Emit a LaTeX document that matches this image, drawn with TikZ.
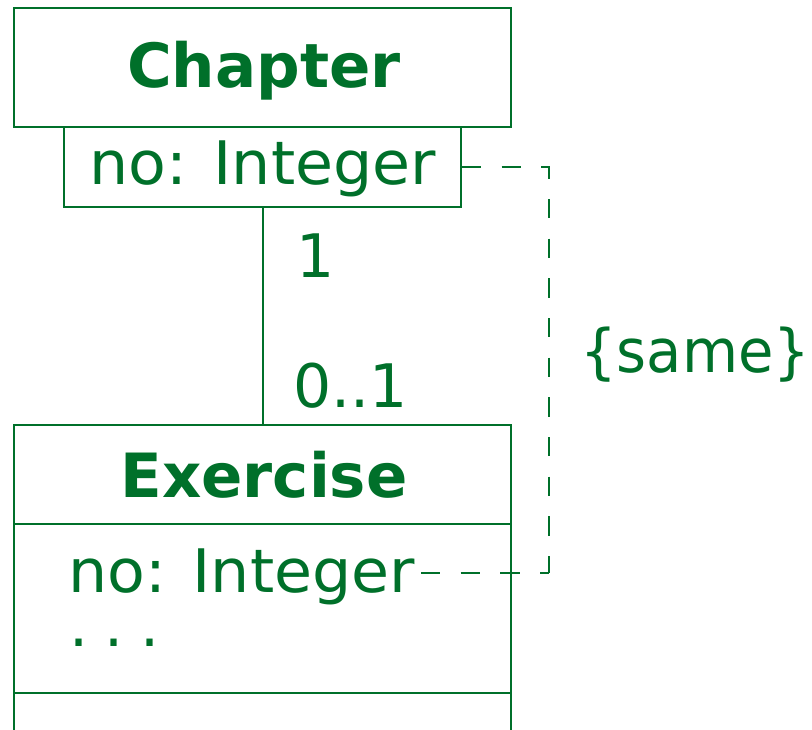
\documentclass[tikz,border=0pt]{standalone}
\usepackage{fontspec}
\setmainfont{DejaVu Sans}
\newfontfamily\regwide[FakeStretch=1.03]{DejaVu Sans}
\newfontfamily\regnarrow[FakeStretch=0.96]{DejaVu Sans}
\definecolor{umlgreen}{RGB}{0,112,42}
\tikzset{
  umlbox/.style={draw=umlgreen, line width=2pt, rectangle, inner sep=0pt},
  boldtxt/.style={text=umlgreen, inner sep=0pt, anchor=base, font=\fontsize{61}{70}\selectfont\bfseries},
  regtxt/.style={text=umlgreen, inner sep=0pt, anchor=base west, font=\fontsize{60}{70}\selectfont},
  conn/.style={draw=umlgreen, line width=2pt},
  dashconn/.style={draw=umlgreen, line width=1.8pt, dash pattern=on 19.3pt off 20.37pt}
}
\begin{document}
\begin{tikzpicture}[x=1pt,y=-1pt]
\clip (0,0) rectangle (812,729);
% Chapter class
\node[umlbox, minimum width=497pt, minimum height=119pt] (chap) at (262.5,67.5) {};
\node[boldtxt] (chapname) at (264,87) {Chapter};
\node[umlbox, minimum width=397pt, minimum height=80pt] (attr) at (262.5,167) {};
\node[regtxt, font=\fontsize{60}{70}\regwide] (chapno) at (89.5,184) {no: Integer};
% Exercise class
\node[umlbox, minimum width=497pt, minimum height=335pt] (ex) at (262.5,592.5) {};
\draw[conn] (ex.west |- 0,524) -- (ex.east |- 0,524);
\draw[conn] (ex.west |- 0,693) -- (ex.east |- 0,693);
\node[boldtxt] (exname) at (264,497) {Exercise};
\node[regtxt, font=\fontsize{60}{70}\regwide] (exno) at (68.5,592) {no: Integer};
\node[regtxt] (exdots) at (69,646) {.\hspace{16.5pt}.\hspace{16.5pt}.};
% association
\draw[conn] (attr.south) -- (ex.north);
\node[regtxt] (m1) at (296,277) {1};
\node[regtxt] (m2) at (293,407) {0..1};
% constraint
\coordinate (c1) at (549,167);
\coordinate (c2) at (549,573);
\coordinate (c3) at (421,573);
\draw[dashconn] (attr.east) -- (c1) -- (c2);
\draw[dashconn] (c3) -- (c2);
\node[regtxt, font=\fontsize{60}{70}\regnarrow] (same) at (580,372) {\{same\}};
\end{tikzpicture}
\end{document}
